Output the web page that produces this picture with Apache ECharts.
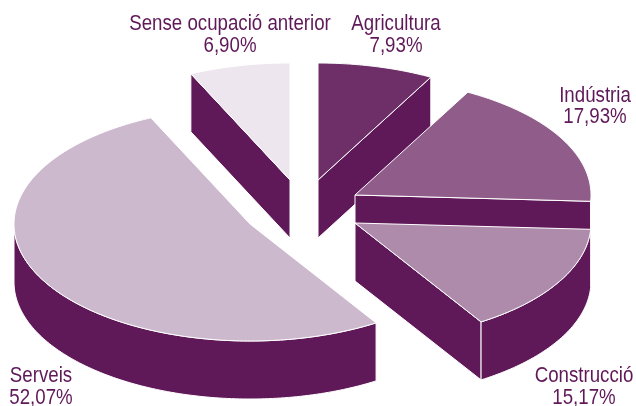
<!DOCTYPE html>
<html><head><meta charset="utf-8">
<style>html,body{margin:0;padding:0;background:#fff}#c{width:636px;height:406px}</style>
<script src="https://cdn.jsdelivr.net/npm/echarts@6/dist/echarts.min.js"></script>
</head><body><div id="c"></div>
<script>
const categories = ['Agricultura','Indústria','Construcció','Serveis','Sense ocupació anterior'];
const shares = [7.93,17.93,15.17,52.07,6.90];
const sliceColors = ['#6e2f69','#905c8a','#ae8aab','#cdb9ce','#ede6ee'];
const apexes = [[318,180],[355,195],[355,223],[250,224],[290,180]];
const labelPos = [[396,35],[595,106.5],[584,387],[41,387],[230,35]];
const drawOrder = [3,4,0,1,2];
const RX=236, RY=117, DEPTH=58, DARK='#5f1858';

const total = shares.reduce((a,b)=>a+b,0);
let acc=0;
const startAngles = shares.map(v=>{const s=acc;acc+=v/total*360;return s;});
const rad=d=>d*Math.PI/180;
const fmt=v=>v.toFixed(2).replace('.',',')+'%';

function renderSlice(params,api){
  const i=api.value(0), share=api.value(1);
  const a0=startAngles[i], a1=a0+share/total*360;
  const [cx,cy]=apexes[i];
  const P=(a,d=0)=>[cx+RX*Math.sin(rad(a)),cy-RY*Math.cos(rad(a))+d];
  const A=[cx,cy], Ad=[cx,cy+DEPTH];
  const arc=(from,to,d=0)=>{const n=Math.max(2,Math.ceil(Math.abs(to-from)));const o=[];for(let k=0;k<=n;k++)o.push(P(from+(to-from)*k/n,d));return o;};
  const stroke={stroke:'#fff',lineWidth:1};
  const ch=[];
  const poly=(points,fill)=>ch.push({type:'polygon',shape:{points},style:{fill,...stroke}});
  if(Math.sin(rad(a0))<-1e-6) poly([A,P(a0),P(a0,DEPTH),Ad],DARK);
  if(Math.sin(rad(a1))>1e-6) poly([A,P(a1),P(a1,DEPTH),Ad],DARK);
  const r0=Math.max(a0,90), r1=Math.min(a1,270);
  if(r1>r0) poly(arc(r0,r1).concat(arc(r1,r0,DEPTH)),DARK);
  poly([A].concat(arc(a0,a1)),sliceColors[i]);
  const [lx,ly]=labelPos[i];
  ch.push({type:'text',x:lx,y:ly,scaleX:0.85,z2:10,style:{x:0,y:0,text:categories[i]+'\n'+fmt(share),align:'center',verticalAlign:'middle',
    fill:DARK,font:'22px "Liberation Sans", sans-serif',lineHeight:21.5}});
  return {type:'group',children:ch};
}
const chart=echarts.init(document.getElementById('c'),null,{renderer:'canvas'});
chart.setOption({
  animation:false,
  series:[{type:'custom',coordinateSystem:'none',renderItem:renderSlice,silent:true,
    data:drawOrder.map(i=>[i,shares[i]])}]
});
</script></body></html>
